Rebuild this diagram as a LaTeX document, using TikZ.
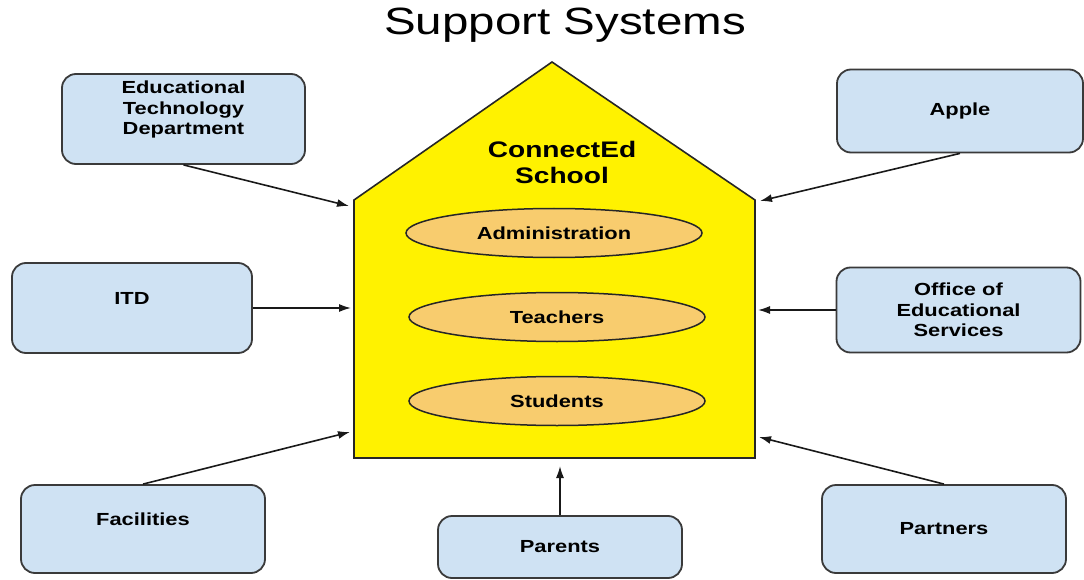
\documentclass[tikz,border=0pt]{standalone}
\usepackage{fontspec}
\setmainfont{Liberation Sans}[FakeStretch=1.25]
\usetikzlibrary{shapes.geometric,arrows.meta}
\definecolor{boxblue}{HTML}{CFE2F3}
\definecolor{grporange}{RGB}{248,204,110}
\definecolor{linegray}{HTML}{3A3A3A}

\begin{document}
\begin{tikzpicture}[x=1pt,y=-1pt,>={Latex[length=12pt,width=8pt]},
  sbox/.style={draw=linegray,line width=1.8pt,fill=boxblue,rounded corners=14pt,
    minimum width=244pt,minimum height=88pt,align=center,inner sep=0pt,
    font=\fontsize{17.5}{20.5}\selectfont\bfseries},
  grp/.style={ellipse,draw=black!85,line width=1.5pt,fill=grporange,
    minimum width=296pt,minimum height=49pt,inner sep=0pt,
    font=\fontsize{17.5}{20.5}\selectfont\bfseries},
  pfeil/.style={->,line width=1.6pt,black!90}]
  \useasboundingbox (0,0) rectangle (1084,580);

  % Haus
  \draw[fill=yellow,draw=black!85,line width=1.6pt]
    (354,458) -- (354,200) -- (552,62) -- (755,200) -- (755,458) -- cycle;
  \coordinate (tedt) at (349,206);
  \coordinate (titd) at (351,308);
  \coordinate (tfac) at (350,432);
  \coordinate (tpar) at (560,466);
  \coordinate (tprt) at (759,437);
  \coordinate (toes) at (758,310);
  \coordinate (tapl) at (760,201);

  % Knoten
  \node[anchor=base] (ttl) at (565,35) {\fontsize{38}{44}\selectfont Support Systems};
  \node[font=\fontsize{22.5}{26}\selectfont\bfseries,align=center] (cs) at (562,162) {ConnectEd\\School};
  \node[grp] (adm) at (554,233) {Administration};
  \node[grp] (tch) at (557,317) {Teachers};
  \node[grp] (stu) at (557,401) {Students};

  \node[sbox,minimum width=243pt,minimum height=90pt,text depth=22pt] (edt) at (183.5,119) {Educational\\Technology\\Department};
  \node[sbox,minimum width=240pt,minimum height=90pt,text depth=20pt] (itd) at (132,308) {ITD};
  \node[sbox,text depth=20pt] (fac) at (143,529) {Facilities};
  \node[sbox,minimum height=62pt] (par) at (560,547) {Parents};
  \node[sbox] (prt) at (944,529) {Partners};
  \node[sbox,minimum height=85pt] (oes) at (958.5,310) {Office of\\Educational\\Services};
  \node[sbox,minimum width=246pt,minimum height=83pt] (apl) at (960,111) {Apple};

  % Pfeile
  \draw[pfeil] (edt.south) -- (tedt);
  \draw[pfeil] (itd.east) -- (titd);
  \draw[pfeil] (fac.north) -- (tfac);
  \draw[pfeil] (par.north) -- (tpar);
  \draw[pfeil] (prt.north) -- (tprt);
  \draw[pfeil] (oes.west) -- (toes);
  \draw[pfeil] (apl.south) -- (tapl);
\end{tikzpicture}
\end{document}
